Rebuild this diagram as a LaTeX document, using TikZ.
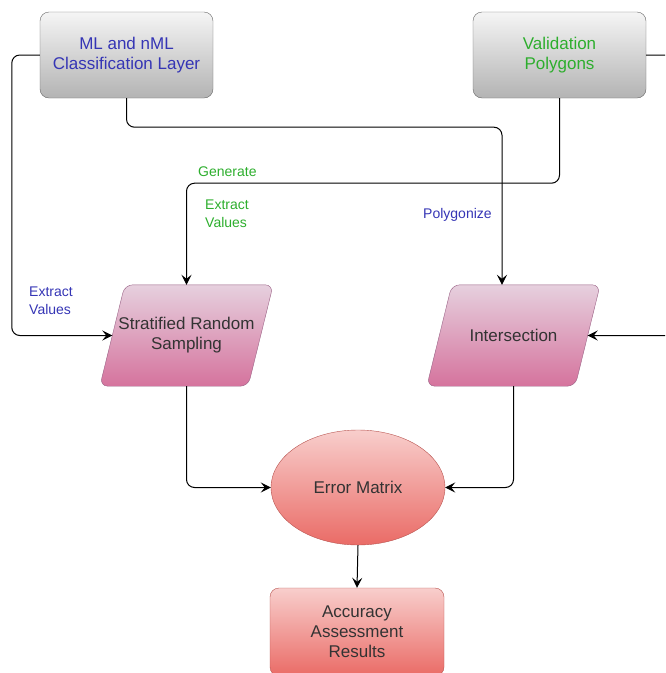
\documentclass[tikz,border=0pt]{standalone}
\usepackage{fontspec}
\setmainfont{Liberation Sans}
\usetikzlibrary{arrows.meta,shapes.geometric}

\definecolor{fcblue}{HTML}{3535B5}
\definecolor{fcgreen}{HTML}{2DAE2D}
\definecolor{fctext}{HTML}{333333}
\definecolor{grayhi}{HTML}{F5F5F5}
\definecolor{graylo}{HTML}{B3B3B3}
\definecolor{grayline}{HTML}{666666}
\definecolor{pinkhi}{HTML}{E6D0DE}
\definecolor{pinklo}{HTML}{D5739D}
\definecolor{pinkline}{HTML}{996185}
\definecolor{redhi}{HTML}{F8CECC}
\definecolor{redlo}{HTML}{EA6B66}
\definecolor{redline}{HTML}{B85450}
\pgfdeclarelayer{fcback}
\pgfsetlayers{fcback,main}

\begin{document}
\begin{tikzpicture}[x=1pt, y=-1pt,
    boxtext/.style={font=\fontsize{17}{20}\selectfont, align=center, text=fctext},
    srcbox/.style={boxtext, rectangle, rounded corners=9pt, draw=grayline,
                   top color=grayhi, bottom color=graylo,
                   minimum width=173pt, minimum height=86pt},
    procbox/.style={boxtext, rectangle, minimum width=148pt,
                    minimum height=101pt, inner sep=0pt},
    procfill/.style={draw=pinkline, rounded corners=8pt,
                     top color=pinkhi, bottom color=pinklo},
    resbox/.style={boxtext, draw=redline, top color=redhi, bottom color=redlo},
    conn/.style={draw=black, line width=1pt, rounded corners=8pt,
                 -{Stealth[length=10pt, width=10pt, inset=4pt]}},
    lbl/.style={font=\fontsize{14}{18}\selectfont, align=left, inner sep=0pt}]

\useasboundingbox (0,0) rectangle (665,673);
\clip (0,0) rectangle (665,673);

% --- input layers ------------------------------------------------------------
\foreach \name/\x/\col/\text in {%
    ml/126.5/fcblue/{ML and nML\\Classification Layer},
    val/559.5/fcgreen/{Validation\\Polygons}}
{
  \node[srcbox, text=\col] (\name) at (\x,55) {\text};
}

% --- processing steps (parallelograms drawn behind the nodes) ----------------
\node[procbox] (srs)   at (186.5,335.5) {Stratified Random\\Sampling};
\node[procbox] (inter) at (513.5,335.5) {Intersection};
\begin{pgfonlayer}{fcback}
  \foreach \n in {srs,inter}
    \path[procfill] ([xshift=-12.5pt]\n.south west) -- ([xshift=12.5pt]\n.north west)
      -- ([xshift=12.5pt]\n.north east) -- ([xshift=-12.5pt]\n.south east) -- cycle;
\end{pgfonlayer}

\node[resbox, ellipse, minimum width=174pt, minimum height=115pt]
  (err) at (358,487.5) {Error Matrix};
\node[resbox, rectangle, rounded corners=9pt, minimum width=174pt,
      minimum height=88pt] (acc) at (357,632) {Accuracy\\Assessment\\Results};

% --- connectors --------------------------------------------------------------
\draw[conn] (ml.west) -- ++(-28,0) |- (srs.west);
\draw[conn] (ml.south) -- ++(0,29) -| ([xshift=-11.5pt]inter.north);
\draw[conn] (val.south) -- ++(0,85) -| (srs.north);
\draw[conn] (val.east) -- ++(40,0) |- (inter.east);
\draw[conn] (srs.south) |- (err.west);
\draw[conn] (inter.south) |- (err.east);
\draw[conn] (err.south) -- (acc.north);

% --- connector labels --------------------------------------------------------
\node[lbl, text=fcgreen, anchor=west] (lgen)  at (198,172) {Generate};
\node[lbl, text=fcgreen, anchor=west] (lextg) at (205,214) {Extract\\Values};
\node[lbl, text=fcblue,  anchor=west] (lextb) at (29,300.5) {Extract\\Values};
\node[lbl, text=fcblue,  anchor=west] (lpoly) at (423,215) {Polygonize};
\end{tikzpicture}
\end{document}
